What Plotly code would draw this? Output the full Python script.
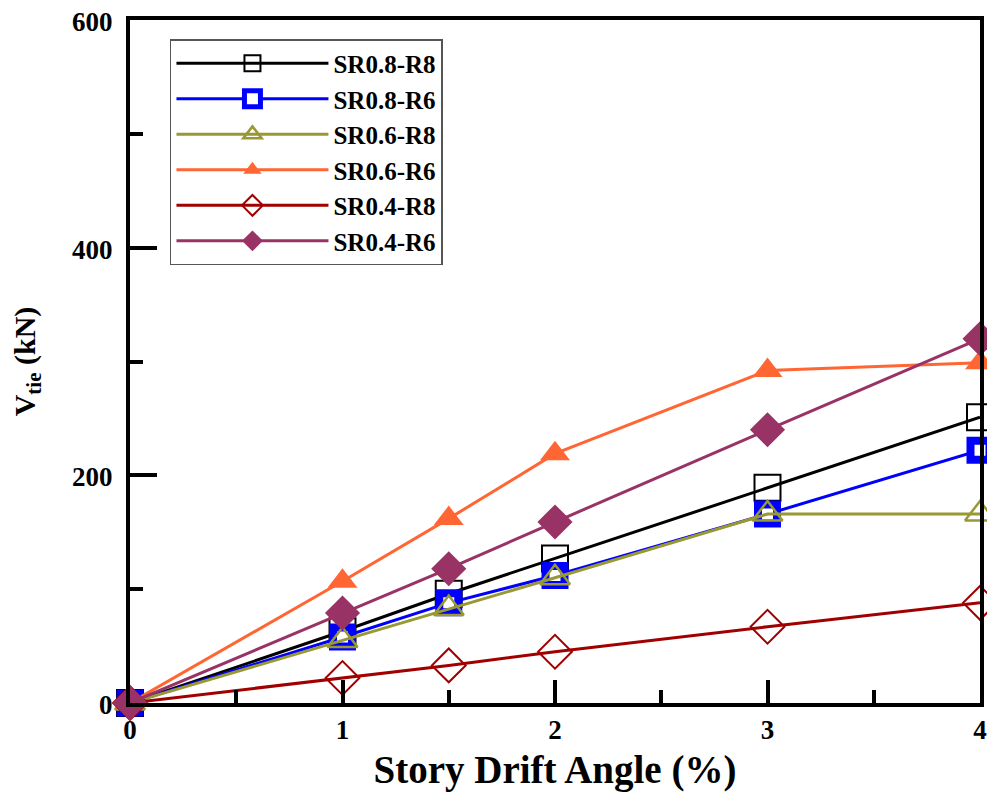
import plotly.graph_objects as go

drift = [0, 1, 1.5, 2, 3, 4]
names = ["SR0.8-R8", "SR0.8-R6", "SR0.6-R8", "SR0.6-R6", "SR0.4-R8", "SR0.4-R6"]
sr08_r8 = [0, 63, 96, 127, 189, 251]
sr08_r6 = [0, 58, 88, 112, 166, 222]
sr06_r8 = [0, 55, 83, 110, 166, 166]
sr06_r6 = [0, 107, 162, 219, 292, 299]
sr04_r8 = [0, 22, 33, 45, 67, 88]
sr04_r6 = [0, 79, 118, 159, 240, 320]

x_ticks = [0, 1, 2, 3, 4]
x_minor = [0.5, 1.5, 2.5, 3.5]
y_ticks = [0, 200, 400, 600]
y_minor = [100, 300, 500]

series = [sr08_r8, sr08_r6, sr06_r8, sr06_r6, sr04_r8, sr04_r6]
colors = ["#000000", "#0000FF", "#999933", "#FF6633", "#A00000", "#993366"]
symbols = ["square-open", "square", "triangle-up-open", "triangle-up", "diamond-open", "diamond"]
fills = [None, "#FFFFFF", None, "#FF6633", None, "#993366"]
lws = [2, 8, 2.5, 0, 2, 0]
sizes = [26, 19, 26, 26, 26, 27]

FONT = "Liberation Serif"

fig = go.Figure()
for i, (nm, ys) in enumerate(zip(names, series)):
    mk = dict(symbol=symbols[i], size=sizes[i], color=fills[i] or colors[i],
              line=dict(color=colors[i], width=lws[i]))
    fig.add_trace(go.Scatter(
        x=drift, y=ys, name=nm, mode="lines+markers",
        line=dict(color=colors[i], width=3),
        marker=mk, cliponaxis=False,
    ))

# y tick labels placed just left of the axis
for v in y_ticks:
    fig.add_annotation(
        xref="paper", x=0, yref="y", y=v, text=str(v), showarrow=False,
        xanchor="right", yanchor="middle", xshift=-15, yshift=-2,
        font=dict(family=FONT, size=27, color="black", weight="bold"),
    )

fig.update_layout(
    width=987, height=788,
    margin=dict(l=122, r=8, t=10, b=93),
    paper_bgcolor="white", plot_bgcolor="white",
    font=dict(family=FONT, color="black"),
    showlegend=True,
    legend=dict(
        x=0.047, y=0.972, xanchor="left", yanchor="top",
        bordercolor="#555555", borderwidth=1.5, bgcolor="white",
        font=dict(family=FONT, size=25, color="black", weight="bold"),
        traceorder="normal", itemwidth=152,
    ),
    xaxis=dict(
        range=[0, 4], tickmode="array", tickvals=x_ticks,
        ticktext=[str(v) for v in x_ticks],
        ticks="inside", ticklen=23, tickwidth=4, tickcolor="black",
        minor=dict(tickvals=x_minor, ticks="inside", ticklen=13, tickwidth=4, tickcolor="black"),
        showline=True, linecolor="black", linewidth=4, mirror=True,
        showgrid=False, zeroline=False,
        tickfont=dict(family=FONT, size=27, color="black", weight="bold"),
        title=dict(text="Story Drift Angle (%)", font=dict(family=FONT, size=39, color="black", weight="bold"), standoff=12),
    ),
    yaxis=dict(
        range=[0, 600], tickmode="array", tickvals=y_ticks,
        showticklabels=False,
        ticks="inside", ticklen=27, tickwidth=4, tickcolor="black",
        minor=dict(tickvals=y_minor, ticks="inside", ticklen=13, tickwidth=4, tickcolor="black"),
        showline=True, linecolor="black", linewidth=4, mirror=True,
        showgrid=False, zeroline=False,
        title=dict(text="V<sub>tie</sub> (kN)", font=dict(family=FONT, size=30, color="black", weight="bold"), standoff=102),
        automargin=False,
    ),
)

fig.write_html("out.html")
